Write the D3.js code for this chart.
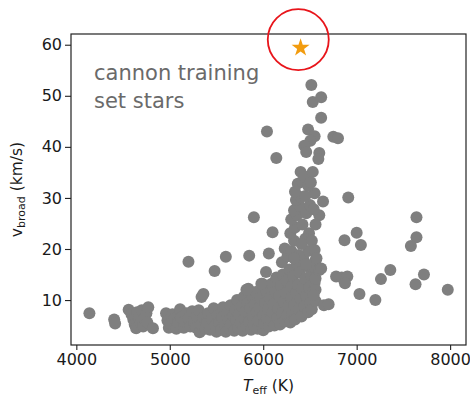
<!DOCTYPE html>
<html>
<head>
<meta charset="utf-8">
<script src="https://cdn.jsdelivr.net/npm/d3@7"></script>
<style>
  html, body { margin: 0; padding: 0; background: #fff; }
  svg { display: block; font-family: "DejaVu Sans", sans-serif; }
</style>
</head>
<body>
<svg id="chart" width="470" height="398"></svg>
<script>
// Cannon training-set stars: effective temperature (K) vs. line broadening (km/s)
const coolStars = [
  [4140,7.4],[4405,6.2],[4415,5.4],
  [4560,8.1],[4590,7.2],[4610,6.2],[4625,5.2],[4640,4.5],[4650,7.6],[4670,6.6],
  [4690,5.4],[4700,8.0],[4715,4.8],[4730,6.4],[4750,7.4],[4770,8.6],[4760,5.6],[4820,4.5]
];

const band5000 = [
  [4960,7.4],[4975,6.0],[4990,4.6],[5010,5.4],[5030,7.2],[5050,6.4],[5070,4.4],[5090,5.6],
  [5110,8.2],[5120,6.6],[5150,4.6],[5160,5.8],[5180,7.4],[5200,6.4],[5220,4.8],[5240,7.8],
  [5260,5.6],[5280,4.6],[5290,6.8],[5310,8.0],[5320,3.7],[5340,5.2],[5360,6.6],[5380,4.4],
  [5340,10.6],[5360,11.2]
];

const band5500 = [
  [5400,5.6],[5410,7.4],[5430,4.2],[5450,6.2],[5470,8.4],[5490,5.0],[5500,3.8],[5510,7.0],
  [5530,5.6],[5550,4.2],[5560,6.6],[5570,8.6],[5590,5.0],[5600,3.8],[5610,7.4],[5630,6.0],
  [5640,4.4],[5650,9.0],[5660,5.4],[5680,7.0],[5690,4.0],[5700,8.2],[5710,6.0],[5720,10.0],
  [5730,4.6],[5740,7.2]
];

const band5900 = [
  [5760,5.4],[5770,8.8],[5780,4.0],[5790,10.6],[5800,6.4],[5810,7.8],[5820,4.8],[5830,9.4],
  [5840,12.2],[5850,5.8],[5860,8.4],[5870,4.2],[5880,10.8],[5890,6.8],[5900,5.0],[5910,9.2],
  [5920,11.6],[5930,7.6],[5940,4.4],[5950,6.0],[5960,8.6],[5970,10.4],[5990,13.2],[6000,4.1],
  [6000,7.0],[6010,5.4],[6020,9.4],[6030,11.8],[6040,6.4],[6050,8.2]
];

const band6200 = [
  [6060,4.8],[6070,10.4],[6080,6.0],[6090,13.2],[6100,7.6],[6110,9.2],[6120,5.0],[6130,11.6],
  [6140,14.4],[6150,6.6],[6160,8.4],[6170,10.8],[6180,5.2],[6190,12.8],[6200,7.4],[6210,15.0],
  [6220,9.6],[6230,5.8],[6240,11.4],[6250,13.8],[6260,7.0],[6270,8.8],[6280,16.0],[6290,5.6],
  [6300,10.4],[6300,12.6]
];

const band6500 = [
  [6310,7.6],[6320,14.6],[6330,9.0],[6340,6.2],[6350,11.4],[6360,17.0],[6370,13.0],[6380,8.2],
  [6390,15.4],[6400,10.2],[6410,6.8],[6420,12.2],[6430,18.0],[6440,8.8],[6450,14.2],[6460,10.8],
  [6470,16.6],[6480,7.6],[6490,12.4],[6500,9.4],[6510,14.8],[6520,8.2],[6530,11.6],[6550,13.4],
  [6560,9.8],[6560,12.0],[6540,11.0],[6560,14.2],[6650,9.0],[6700,9.2],[6520,16.6],[6560,17.8]
];

const risingBranch = [
  [6230,20.1],[6200,17.4],[6260,18.6],[6300,19.6],[6330,21.6],[6290,23.1],[6340,24.2],[6300,25.8],
  [6360,26.6],[6330,27.6],[6390,28.4],[6350,29.6],[6400,30.2],[6340,31.2],[6370,32.8],[6420,33.2],
  [6400,35.1],[6440,34.2],[6490,23.1],[6450,22.0],[6480,19.6],[6410,21.0],[6380,18.8],[6420,24.8],
  [6460,27.0],[6500,28.6],[6450,30.4],[6550,30.9],[6640,29.3],[6530,35.1],[6480,32.4],[6600,26.6],
  [6560,24.8],[6520,21.6],[6540,27.8],[6510,33.0],[6550,19.8],[6570,18.2],[6600,15.9],[6620,16.2],
  [6460,17.0],[6330,18.2]
];

const fastRotators = [
  [6515,52.1],[6530,48.8],[6620,49.7],[6620,45.7],[6480,43.4],[6550,42.1],[6505,41.2],[6750,42.0],
  [6800,41.7],[6440,40.2],[6460,39.0],[6600,38.8],[6590,37.6],[6040,43.0],[6140,37.8]
];

const scattered = [
  [5200,17.5],[5480,15.7],[5600,18.5],[5850,18.7],[5900,26.2],[6100,23.3],[6060,19.1],[6030,15.5],
  [5820,12.0],[5980,13.2],
  [6910,30.1],[7640,26.2],[7000,23.2],[6870,21.7],[7045,20.8],[7640,22.3],[7580,20.6],[7360,15.9],
  [7260,14.1],[6780,14.6],[6840,14.4],[6900,14.6],[6875,13.3],[7720,15.0],[7630,13.1],[7975,12.0],
  [7030,11.2],[7200,10.0]
];

// highlighted target star
const targetStar = [6400, 59.4];

const xTicks = [4000, 5000, 6000, 7000, 8000];
const yTicks = [10, 20, 30, 40, 50, 60];
const noteLines = ["cannon training", "set stars"];

const stars = [].concat(coolStars, band5000, band5500, band5900, band6200, band6500,
                        risingBranch, fastRotators, scattered);

const plot = { left: 71, right: 466, top: 34, bottom: 345 };

const x = d3.scaleLinear().domain([3943, 8170]).range([plot.left, plot.right]);
const y = d3.scaleLinear().domain([1.2, 62.1]).range([plot.bottom, plot.top]);

const svg = d3.select("#chart");

// scatter points
svg.append("g")
  .selectAll("circle")
  .data(stars)
  .join("circle")
  .attr("cx", d => x(d[0]))
  .attr("cy", d => y(d[1]))
  .attr("r", 6)
  .attr("fill", "#7f7f7f");

// axes
const xAxis = svg.append("g")
  .attr("transform", `translate(0,${plot.bottom})`)
  .call(d3.axisBottom(x).tickValues(xTicks).tickFormat(d3.format("d")).tickSize(5).tickPadding(4));

const yAxis = svg.append("g")
  .attr("transform", `translate(${plot.left},0)`)
  .call(d3.axisLeft(y).tickValues(yTicks).tickFormat(d3.format("d")).tickSize(6).tickPadding(3));

[xAxis, yAxis].forEach(g => {
  g.select(".domain").remove();
  g.selectAll("line").attr("stroke", "#222").attr("stroke-width", 1.1);
  g.selectAll("text").attr("fill", "#1a1a1a").style("font-size", "16px")
    .style("font-family", "'DejaVu Sans', sans-serif");
});

// frame
svg.append("rect")
  .attr("x", plot.left).attr("y", plot.top)
  .attr("width", plot.right - plot.left).attr("height", plot.bottom - plot.top)
  .attr("fill", "none").attr("stroke", "#222").attr("stroke-width", 1.2);

// annotation text
const note = svg.append("text")
  .attr("x", 94).attr("y", 80)
  .attr("fill", "#6a6a6a")
  .style("font-size", "21px");
note.selectAll("tspan")
  .data(noteLines)
  .join("tspan")
  .attr("x", 94)
  .attr("dy", (d, i) => i === 0 ? 0 : 28)
  .text(d => d);

// target star and ring around it
svg.append("path")
  .attr("d", d3.symbol(d3.symbolStar, 100)())
  .attr("transform", `translate(${x(targetStar[0])},${y(targetStar[1])})`)
  .attr("fill", "#f29c0f");

svg.append("circle")
  .attr("cx", x(targetStar[0] - 25))
  .attr("cy", y(targetStar[1] + 1.6))
  .attr("r", 30.5)
  .attr("fill", "none")
  .attr("stroke", "#e8151b")
  .attr("stroke-width", 1.8);

// axis titles
const xl = svg.append("text")
  .attr("x", (plot.left + plot.right) / 2).attr("y", 391)
  .attr("text-anchor", "middle")
  .attr("fill", "#1a1a1a")
  .style("font-size", "15.5px");
xl.append("tspan").attr("font-style", "italic").text("T");
xl.append("tspan").attr("font-size", "11px").attr("dy", 3).text("eff");
xl.append("tspan").attr("dy", -3).text(" (K)");

const yl = svg.append("text")
  .attr("transform", `translate(22,${(plot.top + plot.bottom) / 2}) rotate(-90)`)
  .attr("text-anchor", "middle")
  .attr("fill", "#1a1a1a")
  .style("font-size", "15.5px");
yl.append("tspan").text("v");
yl.append("tspan").attr("font-size", "11px").attr("dy", 3).text("broad");
yl.append("tspan").attr("dy", -3).text(" (km/s)");
</script>
</body>
</html>
